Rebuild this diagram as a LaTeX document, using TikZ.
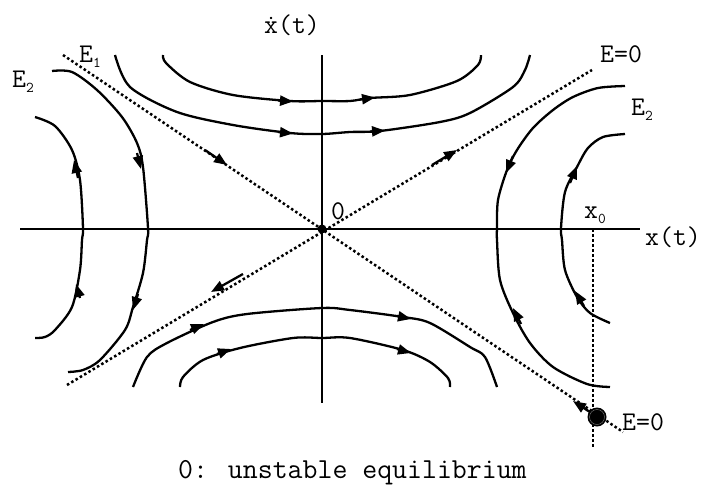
\documentclass[tikz,border=0pt]{standalone}
\usetikzlibrary{arrows.meta}
\begin{document}
\begin{tikzpicture}[x=1pt,y=-1pt,
  curve/.style={line width=2.3pt, line join=round},
  axis/.style={line width=2pt},
  dotline/.style={line width=2.5pt, dash pattern=on 2.5pt off 2.5pt},
  ahead/.style={-{Triangle[length=13pt,width=10pt]}, line width=2.3pt},
  lbl/.style={inner sep=0pt, anchor=base west, font=\ttfamily\fontsize{27}{30}\selectfont},
]
\useasboundingbox (0,0) rectangle (705,488);
\coordinate (O) at (322,229);
% axes
\draw[axis] (20,229) coordinate (xl) -- (640,229) coordinate (xr);
\draw[axis] (322,55) coordinate (yt) -- (322,403) coordinate (yb);
% separatrices
\draw[dotline] (63,55) coordinate (e1a) -- (623,432) coordinate (e1b);
\draw[dotline] (67,385) coordinate (e0a) -- (592,70) coordinate (e0b);
\draw[dotline] (593,229) coordinate (v1) -- (593,448) coordinate (v2);
% arrows on separatrices
\draw[ahead] (205,150) -- (227,165);
\draw[ahead] (432,165) -- (457,150);
\draw[ahead] (243,274) -- (211,292);
\draw[ahead] (596,416) -- (573,401);
% origin and point
\fill (O) circle (4.5);
\fill (597,417) circle (9.5);
\draw[gray, line width=0.4pt] (597,417) circle (7.5);
% upper curves
\draw[curve] plot[smooth, tension=0.5] coordinates {(163,55) (166,63) (190,82) (233,95) (290,101) (322,101) (350,101) (370,98) (410,95) (457,81) (478,65) (481,55)};
\draw[curve] plot[smooth, tension=0.5] coordinates {(115,55) (130,87) (177,112) (233,125) (290,133) (322,134) (350,132) (380,131) (440,122) (470,113) (513,87) (525,70) (530,55)};
\draw[ahead] (278,100.5) -- (293,101.5);
\draw[ahead] (360,99.5) -- (375,97.5);
\draw[ahead] (278,132) -- (293,133.5);
\draw[ahead] (370,131.5) -- (385,130.5);
% lower curves
\draw[curve] plot[smooth, tension=0.5] coordinates {(133,387) (147,357) (167,343) (213,322) (247,314) (322,308) (350,310) (403,317) (430,323) (470,347) (485,357) (497,387)};
\draw[curve] plot[smooth, tension=0.5] coordinates {(180,387) (183,377) (203,360) (240,348) (293,338) (322,338) (350,338) (403,350) (430,362) (448,378) (450,387)};
\draw[ahead] (190,330) -- (204,324);
\draw[ahead] (397,316) -- (411,319);
\draw[ahead] (217,354) -- (231,349);
\draw[ahead] (397,349) -- (411,353);
% left curves
\draw[curve] plot[smooth, tension=0.5] coordinates {(35,117) (55,126) (72,150) (80,180) (83,228) (82,240) (80,270) (72,307) (55,330) (45,337) (35,338)};
\draw[curve] plot[smooth, tension=0.5] coordinates {(52,71) (72,72) (97,90) (122,117) (137,143) (143,167) (148,228) (147,240) (143,273) (133,307) (125,330) (100,360) (83,370) (68,372)};
\draw[ahead] (78,178) -- (74,160);
\draw[ahead] (80,298) -- (76,284);
\draw[ahead] (137,153) -- (141,169);
\draw[ahead] (138,294) -- (133,310);
% right curves
\draw[curve] plot[smooth, tension=0.5] coordinates {(625,86) (598,88) (573,97) (553,110) (533,128) (517,150) (507,170) (498,200) (497,228) (497,240) (500,280) (513,313) (530,343) (553,367) (587,384) (610,387)};
\draw[curve] plot[smooth, tension=0.5] coordinates {(625,134) (603,137) (588,148) (577,167) (565,192) (561,228) (562,240) (565,270) (577,297) (590,313) (610,323)};
\draw[ahead] (513,156) -- (506,173);
\draw[ahead] (521,324) -- (513,308);
\draw[ahead] (570,183) -- (577,166);
\draw[ahead] (584,306) -- (575,291);
% labels
\node[lbl] (ydot) at (264,33) {\.{x}(t)};
\node[lbl] (xt) at (645,245) {x(t)};
\node[lbl] (lE1) at (79,62) {E\raisebox{-5pt}{\fontsize{15}{16}\selectfont 1}};
\node[lbl] (lE2a) at (12,87) {E\raisebox{-5pt}{\fontsize{15}{16}\selectfont 2}};
\node[lbl] (lE0a) at (600,62) {E=0};
\node[lbl] (lE2b) at (631,115) {E\raisebox{-5pt}{\fontsize{15}{16}\selectfont 2}};
\node[lbl] (lx0) at (584,218) {x\raisebox{-5pt}{\fontsize{15}{16}\selectfont 0}};
\node[lbl] (l0) at (331,219) {0};
\node[lbl] (lE0b) at (622,430) {E=0};
\node[lbl, font=\ttfamily\fontsize{29}{32}\selectfont] (cap) at (178,478) {0: unstable equilibrium};
\end{tikzpicture}
\end{document}
